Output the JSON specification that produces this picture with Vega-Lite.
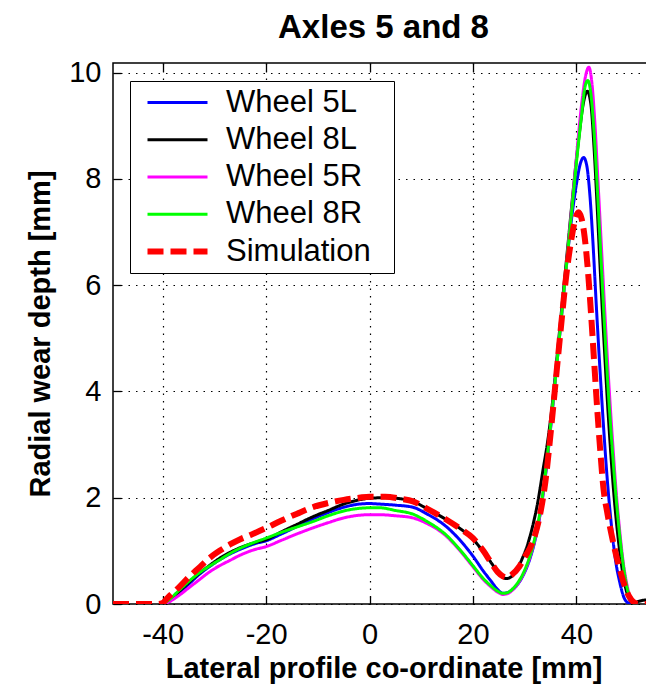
{
"$schema":"https://vega.github.io/schema/vega-lite/v6.json",
"width":541,"height":541,
"autosize":{"type":"none"},
"padding":{"left":113,"top":63,"right":0,"bottom":85},
"background":"white",
"config":{"view":{"stroke":"black","strokeWidth":1.5},"font":"Liberation Sans"},
"title":{"text":"Axles 5 and 8","fontSize":33,"fontWeight":"bold","font":"Liberation Sans","color":"black","anchor":"middle","baseline":"alphabetic","offset":-12,"frame":"group"},
"data":{"values":[
{"s":"Wheel 5L","x":-40,"y":0},{"s":"Wheel 5L","x":-39,"y":0.05},{"s":"Wheel 5L","x":-37,"y":0.2},{"s":"Wheel 5L","x":-35,"y":0.37},{"s":"Wheel 5L","x":-33,"y":0.55},{"s":"Wheel 5L","x":-31,"y":0.7},{"s":"Wheel 5L","x":-29,"y":0.83},{"s":"Wheel 5L","x":-27,"y":0.94},{"s":"Wheel 5L","x":-25,"y":1.03},{"s":"Wheel 5L","x":-22,"y":1.14},{"s":"Wheel 5L","x":-20,"y":1.19},{"s":"Wheel 5L","x":-17,"y":1.32},{"s":"Wheel 5L","x":-14,"y":1.46},{"s":"Wheel 5L","x":-11,"y":1.6},{"s":"Wheel 5L","x":-8,"y":1.72},{"s":"Wheel 5L","x":-5,"y":1.82},{"s":"Wheel 5L","x":-2,"y":1.88},{"s":"Wheel 5L","x":0,"y":1.89},{"s":"Wheel 5L","x":2,"y":1.88},{"s":"Wheel 5L","x":5,"y":1.86},{"s":"Wheel 5L","x":8.4,"y":1.82},{"s":"Wheel 5L","x":11,"y":1.7},{"s":"Wheel 5L","x":14.8,"y":1.46},{"s":"Wheel 5L","x":17.5,"y":1.2},{"s":"Wheel 5L","x":20,"y":0.9},{"s":"Wheel 5L","x":22,"y":0.62},{"s":"Wheel 5L","x":23.5,"y":0.43},{"s":"Wheel 5L","x":24.8,"y":0.27},{"s":"Wheel 5L","x":25.8,"y":0.2},{"s":"Wheel 5L","x":26.8,"y":0.22},{"s":"Wheel 5L","x":28,"y":0.3},{"s":"Wheel 5L","x":29,"y":0.42},{"s":"Wheel 5L","x":30,"y":0.6},{"s":"Wheel 5L","x":31,"y":0.85},{"s":"Wheel 5L","x":32,"y":1.2},{"s":"Wheel 5L","x":33,"y":1.7},{"s":"Wheel 5L","x":34,"y":2.4},{"s":"Wheel 5L","x":35,"y":3.3},{"s":"Wheel 5L","x":36,"y":4.3},{"s":"Wheel 5L","x":37,"y":5.3},{"s":"Wheel 5L","x":38,"y":6.3},{"s":"Wheel 5L","x":39,"y":7.2},{"s":"Wheel 5L","x":40,"y":7.9},{"s":"Wheel 5L","x":40.8,"y":8.3},{"s":"Wheel 5L","x":41.4,"y":8.4},{"s":"Wheel 5L","x":42,"y":8.25},{"s":"Wheel 5L","x":42.6,"y":7.7},{"s":"Wheel 5L","x":43.2,"y":6.8},{"s":"Wheel 5L","x":43.8,"y":5.7},{"s":"Wheel 5L","x":44.5,"y":4.5},{"s":"Wheel 5L","x":45.2,"y":3.4},{"s":"Wheel 5L","x":46,"y":2.3},{"s":"Wheel 5L","x":46.8,"y":1.45},{"s":"Wheel 5L","x":47.6,"y":0.8},{"s":"Wheel 5L","x":48.4,"y":0.4},{"s":"Wheel 5L","x":49.2,"y":0.12},{"s":"Wheel 5L","x":50,"y":0.02},{"s":"Wheel 5L","x":50.5,"y":0},
{"s":"Wheel 8L","x":-40,"y":0},{"s":"Wheel 8L","x":-39,"y":0.05},{"s":"Wheel 8L","x":-37,"y":0.22},{"s":"Wheel 8L","x":-35,"y":0.4},{"s":"Wheel 8L","x":-33,"y":0.57},{"s":"Wheel 8L","x":-31,"y":0.72},{"s":"Wheel 8L","x":-29,"y":0.86},{"s":"Wheel 8L","x":-27,"y":0.97},{"s":"Wheel 8L","x":-25,"y":1.06},{"s":"Wheel 8L","x":-22,"y":1.16},{"s":"Wheel 8L","x":-20,"y":1.21},{"s":"Wheel 8L","x":-17,"y":1.36},{"s":"Wheel 8L","x":-14,"y":1.5},{"s":"Wheel 8L","x":-11,"y":1.64},{"s":"Wheel 8L","x":-8,"y":1.76},{"s":"Wheel 8L","x":-5,"y":1.88},{"s":"Wheel 8L","x":-2,"y":1.96},{"s":"Wheel 8L","x":0,"y":1.99},{"s":"Wheel 8L","x":3,"y":2.0},{"s":"Wheel 8L","x":6,"y":1.98},{"s":"Wheel 8L","x":8.4,"y":1.93},{"s":"Wheel 8L","x":11,"y":1.8},{"s":"Wheel 8L","x":14.8,"y":1.59},{"s":"Wheel 8L","x":17.5,"y":1.42},{"s":"Wheel 8L","x":20,"y":1.22},{"s":"Wheel 8L","x":22,"y":0.98},{"s":"Wheel 8L","x":23.5,"y":0.78},{"s":"Wheel 8L","x":24.8,"y":0.6},{"s":"Wheel 8L","x":25.8,"y":0.5},{"s":"Wheel 8L","x":26.5,"y":0.48},{"s":"Wheel 8L","x":27.5,"y":0.52},{"s":"Wheel 8L","x":28.5,"y":0.65},{"s":"Wheel 8L","x":29.5,"y":0.85},{"s":"Wheel 8L","x":30.5,"y":1.1},{"s":"Wheel 8L","x":31.5,"y":1.45},{"s":"Wheel 8L","x":32.5,"y":1.9},{"s":"Wheel 8L","x":33.5,"y":2.5},{"s":"Wheel 8L","x":34.5,"y":3.1},{"s":"Wheel 8L","x":35.5,"y":3.9},{"s":"Wheel 8L","x":36.5,"y":4.9},{"s":"Wheel 8L","x":37.5,"y":5.9},{"s":"Wheel 8L","x":38.5,"y":6.9},{"s":"Wheel 8L","x":39.5,"y":7.9},{"s":"Wheel 8L","x":40.5,"y":8.8},{"s":"Wheel 8L","x":41.3,"y":9.4},{"s":"Wheel 8L","x":42.1,"y":9.65},{"s":"Wheel 8L","x":42.8,"y":9.4},{"s":"Wheel 8L","x":43.4,"y":8.6},{"s":"Wheel 8L","x":44,"y":7.5},{"s":"Wheel 8L","x":44.6,"y":6.3},{"s":"Wheel 8L","x":45.3,"y":5.0},{"s":"Wheel 8L","x":46,"y":3.8},{"s":"Wheel 8L","x":46.6,"y":2.9},{"s":"Wheel 8L","x":47.3,"y":2.0},{"s":"Wheel 8L","x":48,"y":1.3},{"s":"Wheel 8L","x":48.7,"y":0.75},{"s":"Wheel 8L","x":49.4,"y":0.35},{"s":"Wheel 8L","x":50.2,"y":0.1},{"s":"Wheel 8L","x":51,"y":0.02},{"s":"Wheel 8L","x":52,"y":0.05},{"s":"Wheel 8L","x":54,"y":0.08},{"s":"Wheel 8L","x":56,"y":0.05},
{"s":"Wheel 5R","x":-40,"y":0},{"s":"Wheel 5R","x":-39,"y":0.03},{"s":"Wheel 5R","x":-37,"y":0.15},{"s":"Wheel 5R","x":-35,"y":0.3},{"s":"Wheel 5R","x":-33,"y":0.45},{"s":"Wheel 5R","x":-31,"y":0.6},{"s":"Wheel 5R","x":-29,"y":0.72},{"s":"Wheel 5R","x":-27,"y":0.82},{"s":"Wheel 5R","x":-25,"y":0.92},{"s":"Wheel 5R","x":-22,"y":1.03},{"s":"Wheel 5R","x":-20,"y":1.08},{"s":"Wheel 5R","x":-17,"y":1.2},{"s":"Wheel 5R","x":-14,"y":1.32},{"s":"Wheel 5R","x":-11,"y":1.43},{"s":"Wheel 5R","x":-8,"y":1.53},{"s":"Wheel 5R","x":-5,"y":1.62},{"s":"Wheel 5R","x":-2,"y":1.67},{"s":"Wheel 5R","x":0,"y":1.68},{"s":"Wheel 5R","x":2,"y":1.68},{"s":"Wheel 5R","x":5,"y":1.66},{"s":"Wheel 5R","x":8.4,"y":1.62},{"s":"Wheel 5R","x":11,"y":1.52},{"s":"Wheel 5R","x":14.8,"y":1.28},{"s":"Wheel 5R","x":17.5,"y":1.0},{"s":"Wheel 5R","x":20,"y":0.7},{"s":"Wheel 5R","x":22,"y":0.46},{"s":"Wheel 5R","x":23.5,"y":0.32},{"s":"Wheel 5R","x":24.8,"y":0.22},{"s":"Wheel 5R","x":25.8,"y":0.18},{"s":"Wheel 5R","x":26.8,"y":0.2},{"s":"Wheel 5R","x":28,"y":0.3},{"s":"Wheel 5R","x":29,"y":0.43},{"s":"Wheel 5R","x":30,"y":0.62},{"s":"Wheel 5R","x":31,"y":0.88},{"s":"Wheel 5R","x":32,"y":1.23},{"s":"Wheel 5R","x":33,"y":1.72},{"s":"Wheel 5R","x":34,"y":2.42},{"s":"Wheel 5R","x":35,"y":3.32},{"s":"Wheel 5R","x":36,"y":4.3},{"s":"Wheel 5R","x":37,"y":5.3},{"s":"Wheel 5R","x":38,"y":6.3},{"s":"Wheel 5R","x":39,"y":7.35},{"s":"Wheel 5R","x":40,"y":8.4},{"s":"Wheel 5R","x":41,"y":9.4},{"s":"Wheel 5R","x":41.8,"y":9.95},{"s":"Wheel 5R","x":42.4,"y":10.1},{"s":"Wheel 5R","x":43,"y":9.8},{"s":"Wheel 5R","x":43.6,"y":9.0},{"s":"Wheel 5R","x":44.2,"y":7.9},{"s":"Wheel 5R","x":44.9,"y":6.6},{"s":"Wheel 5R","x":45.6,"y":5.3},{"s":"Wheel 5R","x":46.3,"y":4.1},{"s":"Wheel 5R","x":47,"y":3.05},{"s":"Wheel 5R","x":47.7,"y":2.1},{"s":"Wheel 5R","x":48.4,"y":1.35},{"s":"Wheel 5R","x":49.1,"y":0.75},{"s":"Wheel 5R","x":49.8,"y":0.35},{"s":"Wheel 5R","x":50.5,"y":0.08},{"s":"Wheel 5R","x":51.2,"y":0},
{"s":"Wheel 8R","x":-40,"y":0},{"s":"Wheel 8R","x":-39,"y":0.06},{"s":"Wheel 8R","x":-37,"y":0.24},{"s":"Wheel 8R","x":-35,"y":0.42},{"s":"Wheel 8R","x":-33,"y":0.58},{"s":"Wheel 8R","x":-31,"y":0.71},{"s":"Wheel 8R","x":-29,"y":0.83},{"s":"Wheel 8R","x":-27,"y":0.95},{"s":"Wheel 8R","x":-25,"y":1.05},{"s":"Wheel 8R","x":-22,"y":1.17},{"s":"Wheel 8R","x":-20,"y":1.24},{"s":"Wheel 8R","x":-17,"y":1.35},{"s":"Wheel 8R","x":-14,"y":1.45},{"s":"Wheel 8R","x":-11,"y":1.55},{"s":"Wheel 8R","x":-8,"y":1.66},{"s":"Wheel 8R","x":-5,"y":1.75},{"s":"Wheel 8R","x":-2,"y":1.8},{"s":"Wheel 8R","x":0,"y":1.81},{"s":"Wheel 8R","x":2,"y":1.81},{"s":"Wheel 8R","x":5,"y":1.76},{"s":"Wheel 8R","x":8.4,"y":1.69},{"s":"Wheel 8R","x":11,"y":1.56},{"s":"Wheel 8R","x":14.8,"y":1.3},{"s":"Wheel 8R","x":17.5,"y":1.02},{"s":"Wheel 8R","x":20,"y":0.72},{"s":"Wheel 8R","x":22,"y":0.48},{"s":"Wheel 8R","x":23.5,"y":0.34},{"s":"Wheel 8R","x":24.8,"y":0.24},{"s":"Wheel 8R","x":25.8,"y":0.2},{"s":"Wheel 8R","x":26.8,"y":0.22},{"s":"Wheel 8R","x":28,"y":0.32},{"s":"Wheel 8R","x":29,"y":0.45},{"s":"Wheel 8R","x":30,"y":0.64},{"s":"Wheel 8R","x":31,"y":0.9},{"s":"Wheel 8R","x":32,"y":1.25},{"s":"Wheel 8R","x":33,"y":1.75},{"s":"Wheel 8R","x":34,"y":2.45},{"s":"Wheel 8R","x":35,"y":3.35},{"s":"Wheel 8R","x":36,"y":4.3},{"s":"Wheel 8R","x":37,"y":5.3},{"s":"Wheel 8R","x":38,"y":6.3},{"s":"Wheel 8R","x":39,"y":7.3},{"s":"Wheel 8R","x":40,"y":8.3},{"s":"Wheel 8R","x":41,"y":9.2},{"s":"Wheel 8R","x":41.7,"y":9.75},{"s":"Wheel 8R","x":42.2,"y":9.85},{"s":"Wheel 8R","x":42.8,"y":9.6},{"s":"Wheel 8R","x":43.4,"y":8.9},{"s":"Wheel 8R","x":44,"y":7.9},{"s":"Wheel 8R","x":44.7,"y":6.6},{"s":"Wheel 8R","x":45.4,"y":5.3},{"s":"Wheel 8R","x":46.1,"y":4.1},{"s":"Wheel 8R","x":46.8,"y":3.1},{"s":"Wheel 8R","x":47.5,"y":2.2},{"s":"Wheel 8R","x":48.2,"y":1.45},{"s":"Wheel 8R","x":48.9,"y":0.85},{"s":"Wheel 8R","x":49.6,"y":0.4},{"s":"Wheel 8R","x":50.3,"y":0.12},{"s":"Wheel 8R","x":51,"y":0.02},{"s":"Wheel 8R","x":51.5,"y":0},
{"s":"Simulation","x":-49.6,"y":0},{"s":"Simulation","x":-45,"y":0},{"s":"Simulation","x":-41,"y":0},{"s":"Simulation","x":-40,"y":0.02},{"s":"Simulation","x":-39,"y":0.12},{"s":"Simulation","x":-37,"y":0.3},{"s":"Simulation","x":-35,"y":0.5},{"s":"Simulation","x":-33,"y":0.68},{"s":"Simulation","x":-31,"y":0.86},{"s":"Simulation","x":-29,"y":1.0},{"s":"Simulation","x":-27,"y":1.12},{"s":"Simulation","x":-25,"y":1.22},{"s":"Simulation","x":-23,"y":1.3},{"s":"Simulation","x":-20,"y":1.43},{"s":"Simulation","x":-17,"y":1.57},{"s":"Simulation","x":-14,"y":1.7},{"s":"Simulation","x":-11,"y":1.82},{"s":"Simulation","x":-8,"y":1.9},{"s":"Simulation","x":-5,"y":1.96},{"s":"Simulation","x":-2,"y":2.0},{"s":"Simulation","x":0,"y":2.02},{"s":"Simulation","x":3,"y":2.02},{"s":"Simulation","x":6,"y":1.98},{"s":"Simulation","x":8.4,"y":1.93},{"s":"Simulation","x":11,"y":1.8},{"s":"Simulation","x":14.8,"y":1.59},{"s":"Simulation","x":17.5,"y":1.42},{"s":"Simulation","x":20,"y":1.24},{"s":"Simulation","x":22,"y":1.0},{"s":"Simulation","x":23.5,"y":0.78},{"s":"Simulation","x":24.8,"y":0.6},{"s":"Simulation","x":25.8,"y":0.52},{"s":"Simulation","x":26.5,"y":0.5},{"s":"Simulation","x":27.5,"y":0.55},{"s":"Simulation","x":29,"y":0.71},{"s":"Simulation","x":30,"y":0.88},{"s":"Simulation","x":31,"y":1.05},{"s":"Simulation","x":32,"y":1.3},{"s":"Simulation","x":33,"y":1.7},{"s":"Simulation","x":34,"y":2.3},{"s":"Simulation","x":35,"y":3.2},{"s":"Simulation","x":36,"y":4.2},{"s":"Simulation","x":37,"y":5.2},{"s":"Simulation","x":38,"y":6.15},{"s":"Simulation","x":39,"y":6.85},{"s":"Simulation","x":39.8,"y":7.25},{"s":"Simulation","x":40.4,"y":7.37},{"s":"Simulation","x":41,"y":7.25},{"s":"Simulation","x":41.6,"y":6.9},{"s":"Simulation","x":42.2,"y":6.3},{"s":"Simulation","x":42.8,"y":5.5},{"s":"Simulation","x":43.4,"y":4.6},{"s":"Simulation","x":44,"y":3.7},{"s":"Simulation","x":44.6,"y":2.9},{"s":"Simulation","x":45.2,"y":2.2},{"s":"Simulation","x":46,"y":1.7},{"s":"Simulation","x":46.8,"y":1.3},{"s":"Simulation","x":47.6,"y":0.95},{"s":"Simulation","x":48.4,"y":0.65},{"s":"Simulation","x":49.3,"y":0.35},{"s":"Simulation","x":50.2,"y":0.14},{"s":"Simulation","x":51,"y":0.04},{"s":"Simulation","x":52,"y":0},{"s":"Simulation","x":55,"y":0}
]},
"resolve":{"axis":{"x":"independent"}},
"layer":[
{"transform":[{"filter":"datum.s !== 'Simulation'"}],
 "mark":{"type":"line","strokeWidth":3,"clip":true,"interpolate":"monotone"},
 "encoding":{
  "x":{"field":"x","type":"quantitative","scale":{"domain":[-49.6,55],"nice":false,"zero":false},
   "axis":{"orient":"bottom","values":[-40,-20,0,20,40],"labelExpr":"'' + datum.value","grid":true,"gridColor":"black","gridDash":[1.5,6],"gridWidth":1.2,"gridOpacity":1,"domain":false,"tickSize":-8,"tickColor":"black","tickWidth":1.3,"labelFontSize":29,"labelFont":"Liberation Sans","labelColor":"black","labelPadding":24,"labelFlush":false,"labelOverlap":false,"title":"Lateral profile co-ordinate [mm]","titleFontSize":29,"titleFont":"Liberation Sans","titleFontWeight":"bold","titleColor":"black","titleBaseline":"alphabetic","titleY":73}},
  "y":{"field":"y","type":"quantitative","scale":{"domain":[0,10.18],"nice":false,"zero":false},
   "axis":{"values":[0,2,4,6,8,10],"grid":true,"gridColor":"black","gridDash":[1.5,6],"gridWidth":1.2,"gridOpacity":1,"domain":false,"tickSize":-8,"tickColor":"black","tickWidth":1.3,"labelFontSize":29,"labelFont":"Liberation Sans","labelColor":"black","labelPadding":20,"labelFlush":false,"labelOverlap":false,"title":"Radial wear depth [mm]","titleFontSize":29,"titleFont":"Liberation Sans","titleFontWeight":"bold","titleColor":"black","titleBaseline":"alphabetic","titleX":-64}},
  "color":{"field":"s","type":"nominal","scale":{"domain":["Wheel 5L","Wheel 8L","Wheel 5R","Wheel 8R","Simulation"],"range":["#0000ff","#000000","#ff00ff","#00ff00","#ff0000"]},
   "legend":{"orient":"none","legendX":17,"legendY":18,"title":null,"symbolType":"M-0.4,0H5.6M22.4,0h0","symbolSize":400,"symbolStrokeWidth":3,"labelFontSize":31,"labelFont":"Liberation Sans","labelColor":"black","labelOffset":59,"padding":6,"rowPadding":5.25,"strokeColor":"black","fillColor":"white","encode":{"symbols":{"update":{"strokeWidth":{"signal":"datum.value === 'Simulation' ? 6 : 3"}}}}}},
  "strokeDash":{"field":"s","type":"nominal","scale":{"domain":["Wheel 5L","Wheel 8L","Wheel 5R","Wheel 8R","Simulation"],"range":[[1,0],[1,0],[1,0],[1,0],[16,7]]},
   "legend":{"orient":"none","legendX":17,"legendY":18,"title":null,"symbolType":"M-0.4,0H5.6M22.4,0h0","symbolSize":400,"symbolStrokeWidth":3,"labelFontSize":31,"labelFont":"Liberation Sans","labelColor":"black","labelOffset":59,"padding":6,"rowPadding":5.25,"strokeColor":"black","fillColor":"white","encode":{"symbols":{"update":{"strokeWidth":{"signal":"datum.value === 'Simulation' ? 6 : 3"}}}}}}
 }},
{"transform":[{"filter":"datum.s === 'Simulation'"}],
 "mark":{"type":"line","strokeWidth":6,"clip":true,"interpolate":"monotone"},
 "encoding":{
  "x":{"field":"x","type":"quantitative","axis":{"orient":"top","values":[-40,-20,0,20,40],"labels":false,"grid":false,"domain":false,"tickSize":-8,"tickColor":"black","tickWidth":1.3,"title":null}},
  "y":{"field":"y","type":"quantitative"},
  "color":{"field":"s","type":"nominal"},
  "strokeDash":{"field":"s","type":"nominal"}
 }}
]
}
